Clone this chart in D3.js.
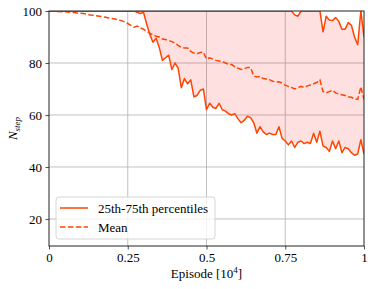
<!DOCTYPE html>
<html>
<head>
<meta charset="utf-8">
<script src="https://cdn.jsdelivr.net/npm/d3@7"></script>
<style>
  body { margin: 0; background: #fff; }
  svg text { font-family: "Liberation Serif", "Times New Roman", "DejaVu Serif", serif; }
</style>
</head>
<body>
<div id="chart"></div>
<script>
'use strict';

// episode axis, in units of 10^4
var episodes = d3.range(0, 101).map(function (i) { return i / 100; });

var p25 = [
	100, 100, 100, 100, 100, 100, 100, 100, 100, 100,
	100, 100, 100, 100, 100, 100, 100, 100, 100, 100,
	100, 100, 100, 100, 100, 100, 100, 100, 99.5, 99,
	99.5, 95, 91, 88, 89.5, 86, 81, 82, 83, 77.5,
	80, 78, 70.5, 74, 72, 73.5, 67, 67.5, 69.5, 70,
	62, 64.5, 63, 62.5, 64.5, 62, 61.5, 60.5, 60, 60.5,
	58.5, 57, 58, 59.5, 59, 57, 53, 55.5, 53.5, 52.5,
	53, 52.5, 52.5, 55.5, 51, 50, 48.5, 50, 47.5, 49.5,
	50, 49, 49.5, 49, 53, 49.5, 53.8, 48, 47.5, 46,
	50, 47, 50, 45.5, 47.5, 47, 45.5, 44.5, 45, 50.5,
	45
];

var p75 = [
	100, 100, 100, 100, 100, 100, 100, 100, 100, 100,
	100, 100, 100, 100, 100, 100, 100, 100, 100, 100,
	100, 100, 100, 100, 100, 100, 100, 100, 100, 100,
	100, 100, 100, 100, 100, 100, 100, 100, 100, 100,
	100, 100, 100, 100, 100, 100, 100, 100, 100, 100,
	100, 100, 100, 100, 100, 100, 100, 100, 100, 100,
	100, 100, 100, 100, 100, 100, 100, 100, 100, 100,
	100, 100, 100, 100, 100, 100, 100, 100, 98.5, 98,
	100, 100, 100, 100, 100, 100, 100, 92, 98, 96.5,
	96.3, 97.5, 96, 93, 93, 95.5, 94.5, 90, 87, 100,
	90
];

var meanSteps = [
	100, 100, 99.8, 99.8, 99.7, 99.7, 99.6, 99.5, 99.4, 99.2,
	99.1, 99, 98.8, 98.5, 98.4, 98.2, 98, 97.8, 97.6, 97.3,
	97.1, 96.9, 96.5, 96.3, 95.8, 95.2, 94.5, 93.8, 94.2, 93.5,
	93, 92.2, 91.5, 90.8, 90.3, 90, 89.2, 89, 88.7, 88.2,
	87.7, 86.8, 86, 85.8, 85.8, 84.5, 83.8, 83.6, 84, 84.2,
	81.5, 82, 81.5, 81, 80.8, 80.6, 80, 79.5, 79.4, 78.5,
	78, 77.5, 77.8, 78.3, 78.2, 75, 74.6, 74.8, 74, 73.8,
	73.6, 73, 72.7, 72.8, 72.3, 71.5, 71, 70.6, 70, 70.5,
	71, 70.6, 71.2, 71.5, 72, 72.5, 73.5, 69, 68.5, 69,
	69.5, 68.5, 68, 67.8, 67.5, 67, 66.8, 66.2, 66, 70.8,
	66
];

var xTicks = [0, 0.25, 0.5, 0.75, 1];
var xTickLabels = ["0", "0.25", "0.5", "0.75", "1"];
var yTicks = [20, 40, 60, 80, 100];
var legendLabels = ["25th-75th percentiles", "Mean"];

var W = 374, H = 289;
var margin = { top: 11, right: 10, bottom: 43, left: 49 };
var iw = W - margin.left - margin.right;
var ih = H - margin.top - margin.bottom;
var lineColor = "#ff4500";
var serif = '"Liberation Serif", "Times New Roman", "DejaVu Serif", serif';

var x = d3.scaleLinear().domain([0, 1]).range([0, iw]);
var y = d3.scaleLinear().domain([9.6, 100]).range([ih, 0]);

var svg = d3.select('#chart').append('svg')
	.attr('width', W).attr('height', H)
	.attr('font-family', serif);

svg.append('defs').append('clipPath').attr('id', 'clip')
	.append('rect').attr('width', iw).attr('height', ih);

var g = svg.append('g').attr('transform', 'translate(' + margin.left + ',' + margin.top + ')');

// grid
g.append('g').selectAll('line').data(xTicks.slice(1, -1)).join('line')
	.attr('x1', function (d) { return x(d); }).attr('x2', function (d) { return x(d); })
	.attr('y1', 0).attr('y2', ih)
	.attr('stroke', '#b0b0b0').attr('stroke-width', 0.8);
g.append('g').selectAll('line').data(yTicks.slice(0, -1)).join('line')
	.attr('y1', function (d) { return y(d); }).attr('y2', function (d) { return y(d); })
	.attr('x1', 0).attr('x2', iw)
	.attr('stroke', '#b0b0b0').attr('stroke-width', 0.8);

var rows = episodes.map(function (e, i) {
	return { e: e, lo: p25[i], hi: p75[i], m: meanSteps[i] };
});

var plot = g.append('g').attr('clip-path', 'url(#clip)');

plot.append('path').datum(rows)
	.attr('fill', 'rgba(255,0,0,0.12)')
	.attr('d', d3.area()
		.x(function (d) { return x(d.e); })
		.y0(function (d) { return y(d.lo); })
		.y1(function (d) { return y(d.hi); }));

['lo', 'hi'].forEach(function (k) {
	plot.append('path').datum(rows)
		.attr('fill', 'none').attr('stroke', lineColor).attr('stroke-width', 1.5)
		.attr('stroke-linejoin', 'round')
		.attr('d', d3.line()
			.x(function (d) { return x(d.e); })
			.y(function (d) { return y(d[k]); }));
});

plot.append('path').datum(rows)
	.attr('fill', 'none').attr('stroke', lineColor).attr('stroke-width', 1.5)
	.attr('stroke-dasharray', '5.5,2.4')
	.attr('d', d3.line()
		.x(function (d) { return x(d.e); })
		.y(function (d) { return y(d.m); }));

// axes
var xAxis = g.append('g').attr('transform', 'translate(0,' + ih + ')')
	.call(d3.axisBottom(x).tickValues(xTicks)
		.tickFormat(function (d, i) { return xTickLabels[i]; })
		.tickSize(3.5).tickPadding(3.5));
var yAxis = g.append('g')
	.call(d3.axisLeft(y).tickValues(yTicks).tickSize(3.5).tickPadding(3.5));
[xAxis, yAxis].forEach(function (a) {
	a.attr('font-family', serif).attr('font-size', 13);
	a.select('.domain').remove();
	a.selectAll('text').attr('fill', '#000').style('font-family', serif);
	a.selectAll('line').attr('stroke', '#222').attr('stroke-width', 0.8);
});

// frame
g.append('rect').attr('width', iw).attr('height', ih)
	.attr('fill', 'none').attr('stroke', '#222').attr('stroke-width', 1);

// axis labels
var xl = svg.append('text')
	.attr('x', margin.left + iw / 2).attr('y', 278)
	.attr('text-anchor', 'middle').attr('font-size', 13);
xl.append('tspan').text('Episode [10');
xl.append('tspan').attr('font-size', 9).attr('dy', -5).text('4');
xl.append('tspan').attr('dy', 5).text(']');

var yl = svg.append('text')
	.attr('transform', 'translate(17,' + (margin.top + ih / 2) + ') rotate(-90)')
	.attr('text-anchor', 'middle').attr('font-size', 13).attr('font-style', 'italic');
yl.append('tspan').text('N');
yl.append('tspan').attr('font-size', 9).attr('dy', 3).text('step');

// legend
var lg = svg.append('g').attr('transform', 'translate(56,197)');
lg.append('rect').attr('width', 159).attr('height', 42).attr('rx', 3)
	.attr('fill', 'rgba(255,255,255,0.8)').attr('stroke', '#cccccc').attr('stroke-width', 0.8);
legendLabels.forEach(function (t, i) {
	var yy = 11 + i * 19;
	lg.append('line').attr('x1', 4).attr('x2', 32).attr('y1', yy).attr('y2', yy)
		.attr('stroke', lineColor).attr('stroke-width', 1.5)
		.attr('stroke-dasharray', i === 1 ? '5.5,2.4' : null);
	lg.append('text').attr('x', 42).attr('y', yy).attr('dy', '0.35em')
		.attr('font-size', 13).text(t);
});
</script>
</body>
</html>
